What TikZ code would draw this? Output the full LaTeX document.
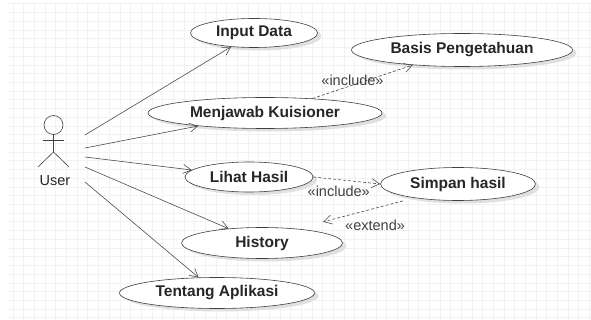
\documentclass[tikz,border=0pt]{standalone}
\usepackage{fontspec}
\setmainfont{Liberation Sans}
\usetikzlibrary{positioning,shapes,arrows.meta,shadows}

\begin{document}
\begin{tikzpicture}[x=1pt, y=-1pt,
    every node/.style={font=\fontsize{15.5}{18}\selectfont\bfseries, text=black!85},
    usecase/.style={ellipse, draw=black!75, fill=white, inner sep=0pt, line width=0.6pt,
        drop shadow={shadow xshift=4pt, shadow yshift=-3pt, fill=black!12, opacity=1}},
    assoc/.style={draw=black!70, line width=0.6pt, -{Straight Barb[length=8pt,width=9pt]}},
    dep/.style={assoc, dash pattern=on 3pt off 2pt},
    stereo/.style={font=\fontsize{14.5}{16}\selectfont, text=black!75}]
        \useasboundingbox (0,0) rectangle (591,320);
        \fill[white] (0,0) rectangle (591,320);

        % Grille de fond
        \foreach \i in {0,...,54}
            \draw[gray!10, line width=1pt] ({13.3+10.67*\i},4) -- ({13.3+10.67*\i},320);
        \foreach \j in {0,...,36}
            \draw[gray!10, line width=1pt] (8,{4+8.72*\j}) -- (591,{4+8.72*\j});

        % Acteur
        \draw[black!75, line width=0.6pt] (53.5,125) circle (9.5pt);
        \draw[black!75, line width=0.6pt] (43,140) -- (64,140);
        \draw[black!75, line width=0.6pt] (53.5,134.5) -- (53.5,152);
        \draw[black!75, line width=0.6pt] (38,167) -- (53.5,152) -- (69,167);
        \node[font=\fontsize{14.5}{16}\selectfont] (user) at (55,181) {User};

        \coordinate (u1) at (85,135);
        \coordinate (u2) at (85,148);
        \coordinate (u3) at (85,157);
        \coordinate (u4) at (85,167);
        \coordinate (u5) at (85,182);

        % Cas d'utilisation
        \node[usecase, minimum width=127, minimum height=29] (input) at (254,33) {Input Data};
        \node[usecase, minimum width=221, minimum height=33] (basis) at (462,50) {Basis Pengetahuan};
        \node[usecase, minimum width=234, minimum height=31] (menjawab) at (265,113) {Menjawab Kuisioner};
        \node[usecase, minimum width=128, minimum height=30] (lihat) at (249,177) {Lihat Hasil};
        \node[usecase, minimum width=155, minimum height=33] (simpan) at (458,184) {Simpan hasil};
        \node[usecase, minimum width=161, minimum height=31] (history) at (262,243) {History};
        \node[usecase, minimum width=195, minimum height=31] (tentang) at (217,293) {Tentang Aplikasi};

        % Associations
        \draw[assoc] (u1) -- (input);
        \draw[assoc] (u2) -- (menjawab);
        \draw[assoc] (u3) -- (lihat);
        \draw[assoc] (u4) -- (history);
        \draw[assoc] (u5) -- (tentang);

        % Dependances
        \draw[dep] (menjawab.17) -- node[stereo, pos=0.4, yshift=5pt] {«include»} (basis.197);
        \draw[dep] (lihat.east) -- node[stereo, below, xshift=-8pt, yshift=-2pt] {«include»} (simpan.west);
        \draw[dep] ([yshift=-5pt]simpan.south west) -- node[stereo, below, xshift=12pt, yshift=-5pt] {«extend»} ([xshift=4pt,yshift=10pt]history.north east);
    \end{tikzpicture}
\end{document}
